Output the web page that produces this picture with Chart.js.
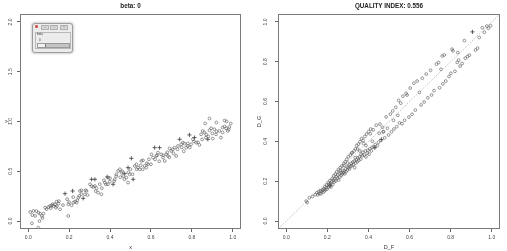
<!DOCTYPE html>
<html><head><meta charset="utf-8">
<script src="https://cdn.jsdelivr.net/npm/chart.js@4.4.0/dist/chart.umd.min.js"></script>
<style>
html,body{margin:0;padding:0;background:#fff;width:507px;height:251px;overflow:hidden;}
.pane{position:absolute;top:0;width:253px;height:251px;}
#tkwin{position:absolute;left:32px;top:23px;width:39px;height:28px;background:#ececec;border:1px solid #9c9c9c;border-radius:3px;box-shadow:0 0 2px 1px rgba(0,0,0,0.18);font-family:"Liberation Sans",Arial,sans-serif;z-index:5;}
#tkwin .tb{position:absolute;left:1px;top:1px;width:37px;height:4px;}
#tkwin .ic{position:absolute;left:1px;top:0;width:3px;height:3px;background:#d9534f;border-radius:1px;}
#tkwin .bt{position:absolute;top:0;width:6px;height:3px;background:#d6d6d6;border:0.5px solid #b0b0b0;font-size:3px;line-height:3px;text-align:center;color:#555;}
#tkwin .grp{position:absolute;left:2px;top:8px;width:34px;height:15px;border:0.5px solid #b8b8b8;}
#tkwin .lbl{position:absolute;left:1px;top:0px;font-size:3px;line-height:3px;color:#333;}
#tkwin .val{position:absolute;left:3px;top:6px;font-size:3px;line-height:3px;color:#333;}
#tkwin .trough{position:absolute;left:1px;top:10px;width:31px;height:3px;background:#c4c4c4;border:0.5px solid #999;}
#tkwin .handle{position:absolute;left:0;top:-0.5px;width:7px;height:3.5px;background:#f2f2f2;border-right:1px solid #777;}
</style></head><body>
<div class="pane" style="left:0"><canvas id="c1" width="253" height="251"></canvas></div>
<div class="pane" style="left:254px"><canvas id="c2" width="253" height="251"></canvas></div>
<div id="tkwin">
  <div class="tb"><span class="ic"></span><span class="bt" style="left:7px">–</span><span class="bt" style="left:16px">□</span><span class="bt" style="left:26px">×</span></div>
  <div class="grp"><span class="lbl">beta</span><span class="val">0</span><div class="trough"><div class="handle"></div></div></div>
</div>
<script>
// ---------- data ----------
const leftTitle = 'beta: 0';
const rightTitle = 'QUALITY INDEX: 0.556';
const leftXTicks = [0, 0.2, 0.4, 0.6, 0.8, 1.0];
const leftYTicks = [0, 0.5, 1.0, 1.5, 2.0];
const rightXTicks = [0, 0.2, 0.4, 0.6, 0.8, 1.0];
const rightYTicks = [0, 0.2, 0.4, 0.6, 0.8, 1.0];
const leftXRange = [-0.04, 1.04];
const leftYRange = [-0.08, 2.08];
const rightXRange = [-0.04, 1.04];
const rightYRange = [-0.04, 1.04];
const ablineIntercept = 0;
const ablineSlope = 1;

// left panel: circles
const leftCircX = [.010,.018,.026,.034,.050,.055,.050,.058,.067,.075,.083,.099,.107,.115,.123,.131,.136,.139,.148,.156,.196,.196,.212,.221,.229,.237,.245,.250,.253,.261,.277,.285,.302,.318,.326,.334,.342,.358,.375,.380,.391,.399,.423,.431,.440,.448,.456,.464,.480,.488,.496,.521,.529,.537,.545,.553,.561,.569,.577,.586,.602,.610,.626,.634,.650,.659,.667,.675,.683,.691,.699,.707,.715,.723,.732,.748,.756,.764,.772,.780,.796,.805,.821,.837,.845,.853,.861,.869,.886,.894,.902,.910,.918,.934,.942,.950,.967,.975,.983,.886,.865,.920,.960,.970,.990,
.02,.04,.07,.09,.11,.12,.14,.15,.17,.19,.20,.22,.24,.26,.28,.29,.31,.33,.35,.36,.37,.39,.40,.42,.43,.45,.46,.47,.49,.50,.51,.53,.55,.56,.58,.59,.60,.62,.63,.64,.66,.68,.69,.71,.73,.75,.76,.78,.79,.81,.83,.85,.87,.88,.90,.92,.95,.96,.98];
const leftCircY = [.091,-.023,.101,.051,.084,.000,-.067,.074,.051,.074,.134,.141,.151,.158,.151,.168,.134,.195,.175,.118,.051,.168,.158,.185,.195,.185,.235,.252,.302,.308,.268,.302,.369,.342,.352,.329,.285,.268,.386,.369,.436,.396,.419,.469,.503,.520,.486,.453,.436,.386,.469,.553,.570,.536,.520,.603,.610,.553,.536,.570,.670,.637,.654,.687,.670,.637,.603,.670,.654,.730,.704,.720,.737,.654,.754,.771,.787,.777,.737,.754,.771,.821,.787,.764,.871,.905,.888,.838,.912,.932,.828,.922,.871,.905,.838,.938,.932,.905,.945,1.03,.980,.990,1.01,1.00,.980,
.06,.10,.03,.12,.13,.17,.15,.20,.16,.22,.19,.24,.21,.27,.31,.26,.35,.30,.37,.33,.41,.37,.43,.40,.45,.44,.50,.42,.49,.52,.47,.52,.56,.52,.58,.62,.57,.62,.66,.60,.66,.69,.64,.68,.72,.74,.70,.78,.74,.80,.79,.82,.87,.85,.88,.90,.89,.95,.92];
// left panel: crosses
const leftCrossX = [.180,.217,.269,.310,.326,.386,.415,.472,.488,.504,.513,.618,.642,.740,.788,.813,.878];
const leftCrossY = [.275,.302,.228,.419,.419,.443,.369,.476,.536,.630,.419,.737,.737,.821,.865,.838,.821];

// right panel: circles (D_F, D_G)
const rightCircDF = [.097,.102,.113,.128,.141,.149,.153,.158,.161,.166,.168,.172,.177,.179,.183,.186,.188,.191,.195,.197,.199,.204,.206,.207,.211,.213,.216,.217,.221,.224,.226,.229,.231,.233,.236,.239,.241,.244,.245,.249,.251,.254,.255,.259,.261,.263,.266,.268,.271,.273,.275,.278,.280,.282,.285,.287,.289,.291,.294,.296,.298,.302,.303,.307,.308,.312,.313,.316,.319,.321,.324,.327,.330,.331,.333,.337,.338,.341,.343,.346,.348,.351,.353,.356,.359,.362,.364,.366,.370,.373,.374,.379,.382,.385,.388,.391,.394,.397,.401,.403,.407,.411,.414,.418,.423,.428,.433,.438,.444,.449,.456,.461,.468,.474,.479,.486,.492,.498,.507,.512,.518,.524,.533,.538,.547,.551,.557,.563,.568,.576,.583,.588,.597,.603,.612,.621,.628,.637,.648,.656,.662,.671,.681,.689,.702,.707,.719,.731,.741,.746,.753,.759,.762,.769,.776,.792,.801,.807,.811,.821,.832,.835,.839,.846,.856,.867,.871,.882,.891,.921,.931,.939,.954,.964,.976,.984,.994,
.262,.281,.298,.336,.358,.388,.419,.452,.471,.522,.543,.318,.347,.377,.409];
const rightCircDG = [.100,.093,.117,.124,.133,.142,.131,.147,.138,.152,.136,.149,.158,.144,.161,.151,.172,.157,.168,.181,.160,.192,.171,.184,.176,.203,.189,.171,.197,.214,.183,.206,.227,.196,.212,.236,.201,.222,.247,.214,.231,.259,.206,.238,.221,.268,.243,.229,.276,.236,.254,.242,.289,.251,.237,.298,.262,.248,.309,.271,.256,.322,.268,.281,.262,.331,.274,.290,.279,.343,.296,.282,.352,.301,.268,.363,.291,.307,.379,.298,.318,.386,.305,.322,.398,.311,.336,.414,.327,.346,.405,.331,.424,.352,.322,.437,.341,.356,.449,.336,.362,.462,.352,.371,.458,.372,.384,.481,.379,.396,.487,.405,.471,.449,.418,.523,.466,.432,.537,.448,.553,.462,.571,.474,.606,.493,.592,.489,.627,.506,.641,.633,.522,.668,.536,.692,.557,.703,.646,.583,.717,.598,.738,.619,.757,.633,.655,.788,.796,.669,.762,.829,.689,.834,.703,.726,.742,.863,.855,.752,.797,.846,.808,.778,.791,.906,.818,.826,.833,.859,.868,.922,.971,.948,.979,.968,.981,
.254,.279,.291,.318,.352,.379,.401,.441,.448,.506,.531,.341,.362,.389,.438];
// right panel: crosses
const rightCrossDF = [.431,.463,.906,.215];
const rightCrossDG = [.368,.410,.950,.180];

// ---------- helpers ----------
const FONT = '"Liberation Sans", Arial, Helvetica, sans-serif';
const pts = (xs, ys) => xs.map((x, i) => ({x, y: ys[i]}));

const boxPlugin = {
  id: 'box',
  afterDraw(chart) {
    const {ctx, chartArea: a} = chart;
    ctx.save();
    ctx.strokeStyle = '#7a7a7a';
    ctx.lineWidth = 1;
    const l = Math.round(a.left) + 0.5, t = Math.round(a.top) + 0.5;
    const r = Math.round(a.right) - 0.5, b = Math.round(a.bottom) - 0.5;
    ctx.strokeRect(l, t, r - l, b - t);
    ctx.restore();
  }
};

function scale(pos, range, ticks, title, size, tickPad, titlePad) {
  const vertical = pos === 'left';
  return {
    type: 'linear', position: pos, min: range[0], max: range[1],
    afterBuildTicks: s => { s.ticks = ticks.map(v => ({value: v})); },
    afterFit: s => { if (vertical) s.width = size; else s.height = size; },
    grid: {drawOnChartArea: false, drawTicks: true, tickLength: 3, tickWidth: 1, tickColor: '#666'},
    border: {display: false},
    ticks: Object.assign({
      font: {family: FONT, size: 5}, color: '#444', padding: tickPad,
      autoSkip: false, callback: v => Number(v).toFixed(1)
    }, vertical ? {minRotation: 90, maxRotation: 90, crossAlign: 'center'} : {minRotation: 0, maxRotation: 0}),
    title: {display: true, text: title, color: '#333', font: {family: FONT, size: 5.5, lineHeight: 1.2}, padding: titlePad}
  };
}

function circleSet(data) {
  return {type: 'scatter', data, pointStyle: 'circle', pointRadius: 1.4, borderWidth: 0.6,
          borderColor: '#555', backgroundColor: 'rgba(0,0,0,0)', pointHoverRadius: 1.4};
}
function crossSet(data) {
  return {type: 'scatter', data, pointStyle: 'cross', pointRadius: 2.1, borderWidth: 0.8,
          borderColor: '#3a3a3a', backgroundColor: '#3a3a3a', pointHoverRadius: 2.1};
}

function baseOptions(titleText, padRight) {
  return {
    responsive: false, animation: false, events: [],
    layout: {padding: {left: 0, right: padRight, top: 0, bottom: 0}},
    plugins: {
      legend: {display: false}, tooltip: {enabled: false},
      title: {display: true, text: titleText, fullSize: false, color: '#222',
              font: {family: FONT, size: 6.3, weight: 'bold', lineHeight: 1.2},
              padding: {top: 2, bottom: 4.4}}
    }
  };
}

// ---------- left chart ----------
const o1 = baseOptions(leftTitle, 12);
o1.scales = {
  x: scale('bottom', leftXRange, leftXTicks, 'x', 22, 2.3, {top: 0, bottom: 0.5}),
  y: scale('left', leftYRange, leftYTicks, 'y', 20, 2.5, {top: 3.5, bottom: 0})
};
new Chart(document.getElementById('c1'), {
  type: 'scatter',
  data: {datasets: [circleSet(pts(leftCircX, leftCircY)), crossSet(pts(leftCrossX, leftCrossY))]},
  options: o1, plugins: [boxPlugin]
});

// ---------- right chart ----------
const lineX = [rightXRange[0], rightXRange[1]];
const lineY = lineX.map(x => ablineIntercept + ablineSlope * x);
const o2 = baseOptions(rightTitle, 7);
o2.scales = {
  x: scale('bottom', rightXRange, rightXTicks, 'D_F', 22, 2.3, {top: 0, bottom: 0.5}),
  y: scale('left', rightYRange, rightYTicks, 'D_G', 24, 6, {top: 2, bottom: 0})
};
new Chart(document.getElementById('c2'), {
  type: 'scatter',
  data: {datasets: [
    {type: 'line', data: pts(lineX, lineY), showLine: true, borderColor: '#8a8a8a', borderWidth: 0.7,
     borderDash: [1, 1.5], pointRadius: 0, fill: false, tension: 0},
    circleSet(pts(rightCircDF, rightCircDG)),
    crossSet(pts(rightCrossDF, rightCrossDG))
  ]},
  options: o2, plugins: [boxPlugin]
});
</script>
</body></html>
